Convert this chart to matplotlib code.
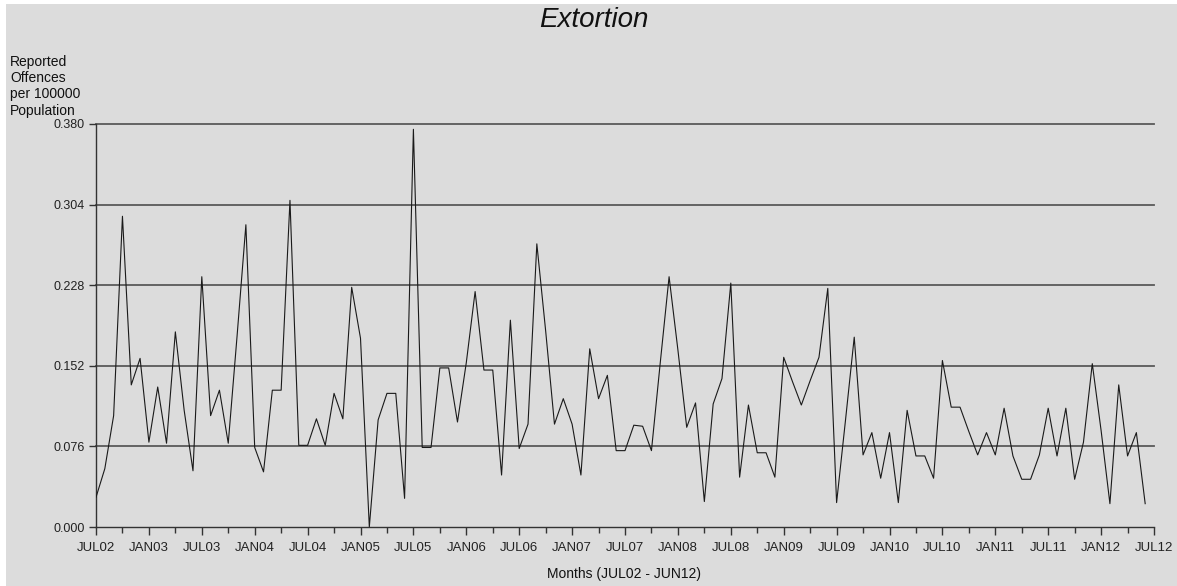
import matplotlib
matplotlib.use("Agg")
import matplotlib.pyplot as plt
import matplotlib.patches as mpatches
import numpy as np

# Monthly values JUL02 .. JUN12 (120 months)
rates = [
    0.028, 0.055, 0.105, 0.293, 0.134, 0.159, 0.080, 0.132, 0.079, 0.184, 0.110, 0.053,
    0.236, 0.105, 0.129, 0.079, 0.180, 0.285, 0.075, 0.052, 0.129, 0.129, 0.308, 0.077,
    0.077, 0.102, 0.077, 0.126, 0.102, 0.226, 0.178, 0.000, 0.101, 0.126, 0.126, 0.027,
    0.375, 0.075, 0.075, 0.150, 0.150, 0.099, 0.155, 0.222, 0.148, 0.148, 0.049, 0.195,
    0.074, 0.097, 0.267, 0.185, 0.097, 0.121, 0.097, 0.049, 0.168, 0.121, 0.143, 0.072,
    0.072, 0.096, 0.095, 0.072, 0.155, 0.236, 0.167, 0.094, 0.117, 0.024, 0.116, 0.140,
    0.230, 0.047, 0.115, 0.070, 0.070, 0.047, 0.160, 0.137, 0.115, 0.138, 0.160, 0.225,
    0.023, 0.100, 0.179, 0.068, 0.089, 0.046, 0.089, 0.023, 0.110, 0.067, 0.067, 0.046,
    0.157, 0.113, 0.113, 0.090, 0.068, 0.089, 0.068, 0.112, 0.067, 0.045, 0.045, 0.068,
    0.112, 0.067, 0.112, 0.045, 0.080, 0.154, 0.091, 0.022, 0.134, 0.067, 0.089, 0.022,
]

tick_labels = ["JUL02", "JAN03", "JUL03", "JAN04", "JUL04", "JAN05", "JUL05",
               "JAN06", "JUL06", "JAN07", "JUL07", "JAN08", "JUL08", "JAN09",
               "JUL09", "JAN10", "JUL10", "JAN11", "JUL11", "JAN12", "JUL12"]
y_ticks = [0.000, 0.076, 0.152, 0.228, 0.304, 0.380]

plt.rcParams['font.family'] = ['Liberation Sans', 'DejaVu Sans']

bg = '#dcdcdc'
fig = plt.figure(figsize=(11.77, 5.86), dpi=100)
fig.patch.set_facecolor('white')
# grey panel with thin white margin on the left/top
fig.patches.append(mpatches.Rectangle((6 / 1177, 0), 1, 1 - 4 / 586,
                                      transform=fig.transFigure,
                                      facecolor=bg, edgecolor='none', zorder=-10))

ax = fig.add_axes([96 / 1177, 1 - 527 / 586, (1154 - 96) / 1177, (527 - 124) / 586])
ax.set_facecolor(bg)

months = np.arange(len(rates))
ax.plot(months, rates, color='#1a1a1a', lw=0.8, zorder=3)

ax.set_xlim(0, 120)
ax.set_ylim(0, 0.380)

ax.set_yticks(y_ticks)
ax.set_yticklabels([f"{v:.3f}" for v in y_ticks])
ax.set_xticks(np.arange(0, 121, 6))
ax.set_xticklabels(tick_labels)
ax.set_xticks(np.arange(3, 121, 6), minor=True)

for v in y_ticks[1:]:
    ax.axhline(v, color='#5a5a5a', lw=1.3, zorder=1, clip_on=False)

for s in ['top', 'right']:
    ax.spines[s].set_visible(False)
for s in ['left', 'bottom']:
    ax.spines[s].set_color('#333333')
    ax.spines[s].set_linewidth(1.0)

ax.tick_params(axis='y', direction='out', length=5, width=1, color='#333333',
               labelsize=9, labelcolor='#222222', pad=3)
ax.tick_params(axis='x', which='major', direction='out', length=6, width=1,
               color='#333333', labelsize=9.5, labelcolor='#222222', pad=5)
ax.tick_params(axis='x', which='minor', direction='out', length=4, width=1,
               color='#333333')

fig.text(594 / 1177, 1 - 20 / 586, "Extortion", fontsize=20, style='italic',
         ha='center', va='center', color='#111111')
fig.text(10 / 1177, 1 - 55 / 586, "Reported\nOffences\nper 100000\nPopulation",
         fontsize=10, ha='left', va='top', linespacing=1.2, color='#111111')
fig.text(624 / 1177, 1 - 574 / 586, "Months (JUL02 - JUN12)", fontsize=10,
         ha='center', va='center', color='#111111')

fig.savefig('out.png', dpi=100, facecolor=fig.get_facecolor())
